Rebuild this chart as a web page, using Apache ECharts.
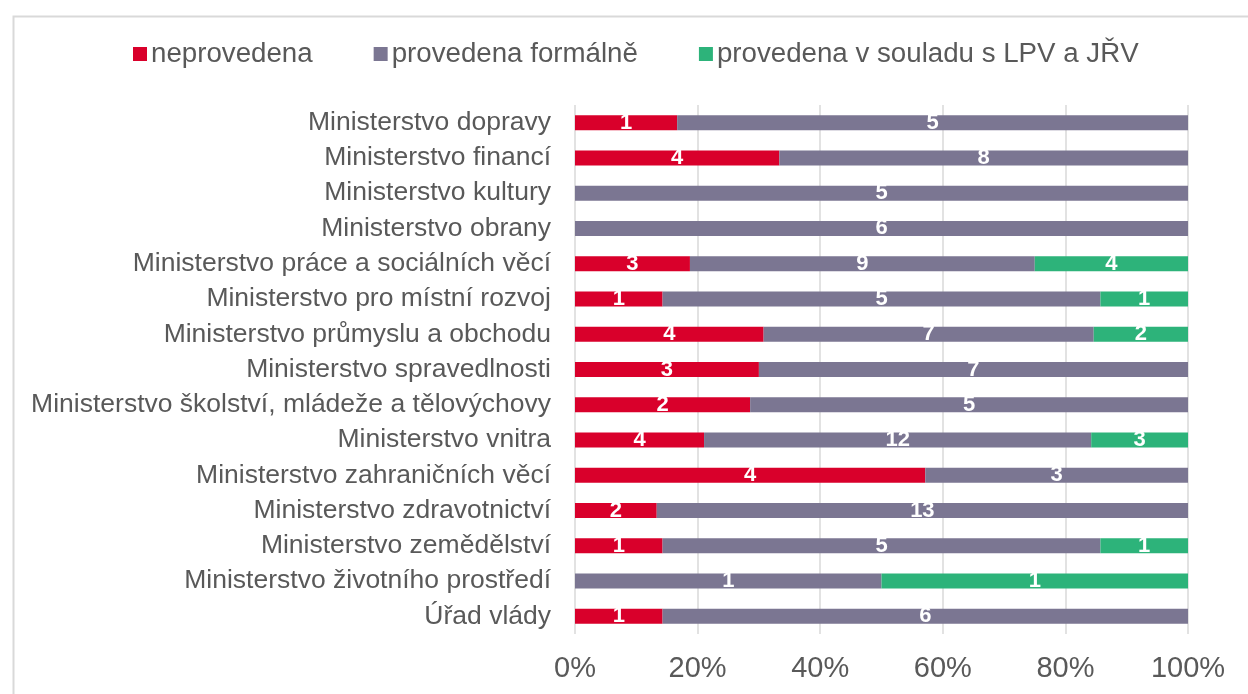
<!DOCTYPE html>
<html><head><meta charset="utf-8">
<script src="https://cdn.jsdelivr.net/npm/echarts@6/dist/echarts.min.js"></script>
<style>html,body{margin:0;padding:0;background:#fff}#c{width:1248px;height:694px}</style>
</head><body><div id="c"></div>
<script>
const categories = [
  "Ministerstvo dopravy",
  "Ministerstvo financí",
  "Ministerstvo kultury",
  "Ministerstvo obrany",
  "Ministerstvo práce a sociálních věcí",
  "Ministerstvo pro místní rozvoj",
  "Ministerstvo průmyslu a obchodu",
  "Ministerstvo spravedlnosti",
  "Ministerstvo školství, mládeže a tělovýchovy",
  "Ministerstvo vnitra",
  "Ministerstvo zahraničních věcí",
  "Ministerstvo zdravotnictví",
  "Ministerstvo zemědělství",
  "Ministerstvo životního prostředí",
  "Úřad vlády"
];
const neprovedena = [1,4,0,0,3,1,4,3,2,4,4,2,1,0,1];
const formalne    = [5,8,5,6,9,5,7,7,5,12,3,13,5,1,6];
const vSouladu    = [0,0,0,0,4,1,2,0,0,3,0,0,1,1,0];
const seriesNames = ["neprovedena","provedena formálně","provedena v souladu s LPV a JŘV"];
const colors = ["#D9002B","#7B7692","#2DB37A"];
const xTicks = ["0%","20%","40%","60%","80%","100%"];

const raw = [neprovedena, formalne, vSouladu];
const totals = categories.map((_, i) => raw.reduce((s, a) => s + a[i], 0));

const chart = echarts.init(document.getElementById('c'));
chart.setOption({
  animation: false,
  backgroundColor: '#fff',
  graphic: [{
    type: 'rect', left: 11, top: 14, silent: true,
    shape: { width: 1300, height: 800 },
    style: { fill: 'none', stroke: '#D9D9D9', lineWidth: 2 }
  }],
  legend: {
    top: 40, left: 133, padding: 0,
    itemWidth: 14, itemHeight: 14, itemGap: 61,
    icon: 'rect',
    textStyle: { fontFamily: 'Liberation Sans', fontSize: 27.7, color: '#595959', padding: [0,0,0,-1] },
    data: seriesNames
  },
  grid: { left: 575, right: 60, top: 105, bottom: 60, containLabel: false },
  xAxis: {
    type: 'value', min: 0, max: 100, interval: 20,
    axisLine: { show: false }, axisTick: { show: false },
    splitLine: { lineStyle: { color: '#D9D9D9', width: 1.5 } },
    axisLabel: {
      fontFamily: 'Liberation Sans', fontSize: 29, color: '#595959', margin: 20,
      formatter: v => xTicks[Math.round(v / 20)]
    }
  },
  yAxis: {
    type: 'category', inverse: true, data: categories,
    axisLine: { show: false }, axisTick: { show: false },
    axisLabel: { fontFamily: 'Liberation Sans', fontSize: 26.5, color: '#595959', margin: 24 }
  },
  series: raw.map((arr, si) => ({
    name: seriesNames[si], type: 'bar', stack: 'total', barWidth: 15,
    itemStyle: { color: colors[si] },
    label: {
      show: true, position: 'inside', color: '#fff',
      fontFamily: 'Liberation Sans', fontWeight: 'bold', fontSize: 22,
      formatter: p => arr[p.dataIndex] ? String(arr[p.dataIndex]) : ''
    },
    data: arr.map((v, i) => v / totals[i] * 100)
  }))
});
</script></body></html>
